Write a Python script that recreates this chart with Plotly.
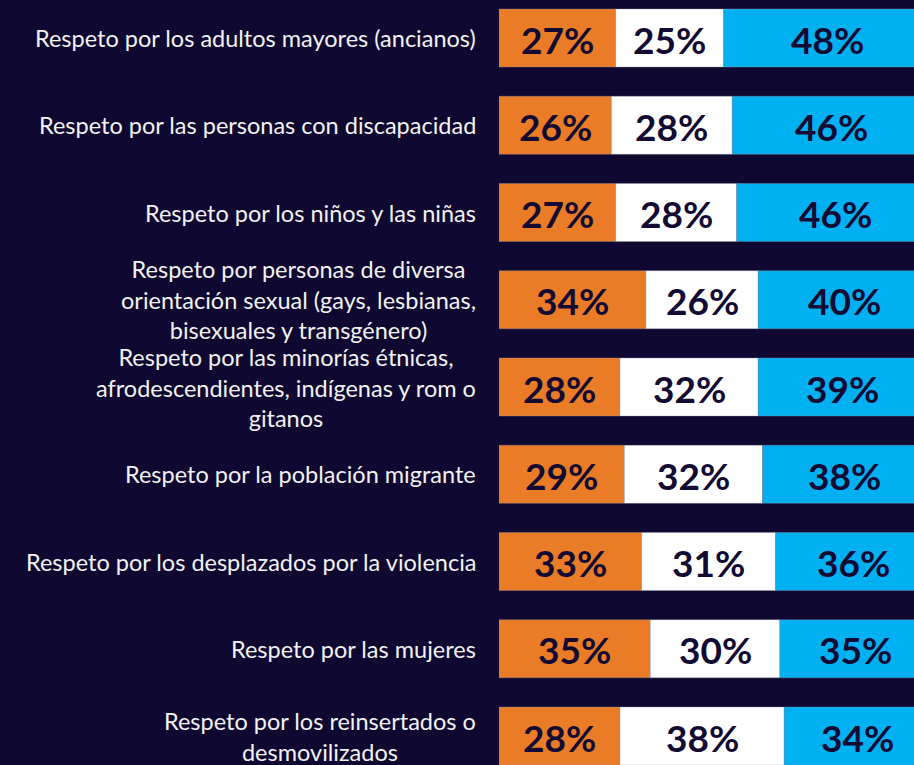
import plotly.graph_objects as go

# Survey items (line breaks as they should wrap beside the bars)
categories = [
    "Respeto por los adultos mayores (ancianos)",
    "Respeto por las personas con discapacidad",
    "Respeto por los niños y las niñas",
    "Respeto por personas de diversa<br>orientación sexual (gays, lesbianas,<br>bisexuales y transgénero)",
    "Respeto por las minorías étnicas,<br>afrodescendientes, indígenas y rom o<br>gitanos",
    "Respeto por la población migrante",
    "Respeto por los desplazados por la violencia",
    "Respeto por las mujeres",
    "Respeto por los reinsertados o<br>desmovilizados",
]
series_names = ["Peor", "Igual", "Mejor"]
peor = [27, 26, 27, 34, 28, 29, 33, 35, 28]
igual = [25, 28, 28, 26, 32, 32, 31, 30, 38]
mejor = [48, 46, 46, 40, 39, 38, 36, 35, 34]

BG = "#0f0830"
TEXT_DARK = "#120a33"
colors = ["#ea7b27", "#ffffff", "#00b0f0"]

ypos = list(range(len(categories)))
series = [peor, igual, mejor]

fig = go.Figure()
base = [0] * len(categories)
for name, vals, col in zip(series_names, series, colors):
    fig.add_trace(go.Bar(
        y=ypos, x=vals, base=base, orientation="h", name=name,
        marker=dict(color=col, line=dict(width=0.6, color="rgba(150,150,170,0.6)")),
        width=0.665, showlegend=False, hoverinfo="skip",
    ))
    mids = [b + v / 2 for b, v in zip(base, vals)]
    for y, m, v in zip(ypos, mids, vals):
        fig.add_annotation(
            x=m, y=y, xref="x", yref="y", text=f"{v}%", showarrow=False,
            xanchor="center", yanchor="middle", yshift=-1,
            font=dict(family="Lato", size=37, color=TEXT_DARK, weight="bold"),
        )
    base = [b + v for b, v in zip(base, vals)]

for y, label in zip(ypos, categories):
    fig.add_annotation(
        x=0, xref="paper", y=y, yref="y", text=label, showarrow=False,
        xanchor="right", yanchor="middle", align="center", xshift=-21,
        font=dict(family="Lato", size=23.5, color="#f2f2f2"),
    )

fig.update_layout(
    width=914, height=765,
    margin=dict(l=499, r=0, t=0, b=0),
    paper_bgcolor=BG, plot_bgcolor=BG,
    barmode="overlay",
    xaxis=dict(range=[0, 96.06], visible=False, fixedrange=True),
    yaxis=dict(range=[8.332, -0.4355], visible=False, fixedrange=True),
)

fig.write_html("out.html")
